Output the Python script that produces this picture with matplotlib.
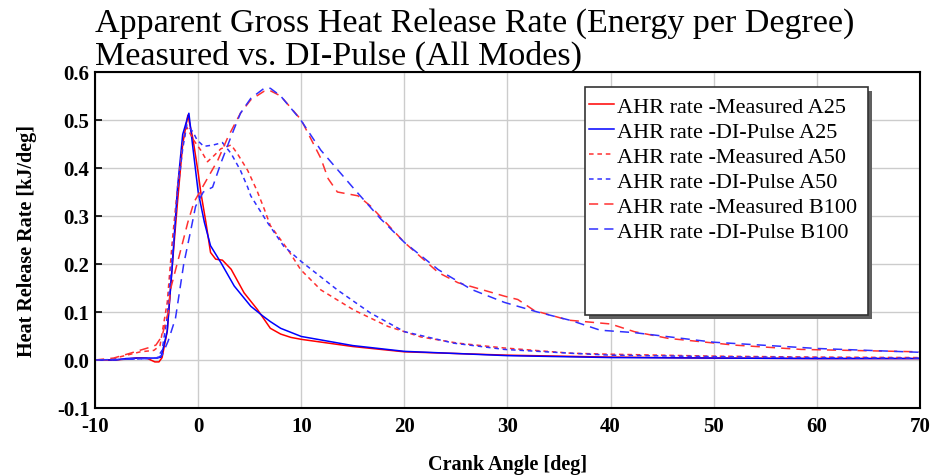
import numpy as np
import matplotlib
matplotlib.use("Agg")
import matplotlib.pyplot as plt
from matplotlib.patches import FancyBboxPatch

plt.rcParams['font.family'] = ['Liberation Serif', 'DejaVu Serif']
plt.rcParams['axes.unicode_minus'] = False

# crank angle [deg] and AHR rate [kJ/deg]
a25_meas_x = [-10, -8, -7, -6, -5, -4.6, -4.2, -3.8, -3.5, -3, -2.5, -2, -1.5, -1, -0.5, 0, 0.25, 0.75,
              1.2, 1.7, 2.35, 3.2, 4.45, 5.75, 7, 8, 9, 10, 15, 20, 30, 40, 50, 60, 70]
a25_meas_y = [0, 0, 0.002, 0.004, 0.004, 0.0, -0.004, -0.004, 0.005, 0.06, 0.2, 0.33, 0.45, 0.51, 0.46,
              0.39, 0.35, 0.287, 0.224, 0.21, 0.208, 0.189, 0.14, 0.105, 0.066, 0.054, 0.047, 0.043,
              0.028, 0.017, 0.01, 0.006, 0.004, 0.003, 0.003]

a25_di_x = [-10, -8, -7, -6, -4, -3.6, -3, -2.5, -2, -1.5, -0.9, -0.5, 0, 0.6, 1.2, 2.2, 3.5, 5.1,
            6.25, 7, 8, 10, 15, 20, 30, 40, 50, 60, 70]
a25_di_y = [0, 0, 0.003, 0.004, 0.004, 0.006, 0.06, 0.2, 0.36, 0.47, 0.514, 0.44, 0.35, 0.287, 0.238,
            0.203, 0.154, 0.112, 0.092, 0.08, 0.066, 0.049, 0.03, 0.018, 0.009, 0.005, 0.004, 0.003, 0.003]

a50_meas_x = [-10, -8.5, -7.5, -5.6, -4.3, -3.7, -3, -2.5, -2, -1.5, -1.1, -0.5, 0.25, 0.9, 1.5, 2.2,
              3.2, 3.8, 4.8, 5.7, 6.4, 7, 8.7, 9.95, 11.9, 15.1, 18.4, 21.6, 25.2, 29.7, 36.2, 40,
              50, 60, 70]
a50_meas_y = [0, 0, 0.007, 0.017, 0.02, 0.03, 0.12, 0.25, 0.36, 0.45, 0.485, 0.46, 0.437, 0.413, 0.425,
              0.44, 0.448, 0.43, 0.395, 0.353, 0.315, 0.28, 0.23, 0.188, 0.146, 0.104, 0.07, 0.048,
              0.035, 0.025, 0.014, 0.012, 0.008, 0.006, 0.005]

a50_di_x = [-10, -6, -4, -3.5, -3, -2.5, -2, -1.5, -1.1, -0.5, -0.1, 0.55, 1.5, 2.35, 3.2, 4.1, 4.8,
            5.1, 6.7, 8.3, 9.95, 13.5, 16.7, 20, 24.8, 29.7, 36.2, 40, 50, 60, 70]
a50_di_y = [0, 0.002, 0.004, 0.02, 0.09, 0.22, 0.35, 0.44, 0.49, 0.475, 0.458, 0.445, 0.448, 0.453,
            0.43, 0.395, 0.36, 0.342, 0.287, 0.237, 0.206, 0.146, 0.098, 0.059, 0.035, 0.022, 0.014,
            0.01, 0.007, 0.005, 0.004]

b100_meas_x = [-10, -8.2, -6.6, -4.9, -4.1, -3.5, -2.9, -2.7, -1.85, -1.0, -0.4, 0.6, 1.9, 2.9, 4.1,
               5.1, 6.4, 6.9, 8.0, 10, 11.9, 12.6, 13.5, 15.5, 16.7, 20, 23.3, 25.2, 29.7, 31, 32.6,
               35.9, 40, 42.3, 45.6, 52, 58.5, 70]
b100_meas_y = [0, 0.004, 0.014, 0.025, 0.031, 0.05, 0.1, 0.146, 0.216, 0.287, 0.329, 0.367, 0.416,
               0.465, 0.514, 0.542, 0.56, 0.562, 0.55, 0.5, 0.42, 0.378, 0.35, 0.342, 0.321, 0.245,
               0.182, 0.161, 0.133, 0.126, 0.103, 0.083, 0.075, 0.059, 0.045, 0.031, 0.022, 0.017]

b100_di_x = [-10, -6, -4, -3.5, -2.9, -2.2, -1.4, -0.7, -0.25, 0.5, 1.4, 2.2, 3.2, 4.1, 5.1, 6.4,
             7.0, 8.0, 9.95, 11.9, 15.1, 17.7, 20, 23.3, 26.5, 29.7, 32.9, 36.2, 39, 42.3, 50, 60, 70]
b100_di_y = [0, 0.002, 0.004, 0.01, 0.04, 0.087, 0.2, 0.272, 0.32, 0.35, 0.36, 0.41, 0.466, 0.514,
             0.545, 0.566, 0.566, 0.55, 0.5, 0.437, 0.357, 0.294, 0.245, 0.188, 0.147, 0.12, 0.1,
             0.082, 0.062, 0.057, 0.037, 0.024, 0.016]

labels = ["AHR rate -Measured A25", "AHR rate -DI-Pulse A25",
          "AHR rate -Measured A50", "AHR rate -DI-Pulse A50",
          "AHR rate -Measured B100", "AHR rate -DI-Pulse B100"]

title1 = "Apparent Gross Heat Release Rate (Energy per Degree)"
title2 = "Measured vs. DI-Pulse (All Modes)"

fig = plt.figure(figsize=(9.32, 4.77), dpi=100)
ax = fig.add_axes([0.102, 0.1426, 0.885, 0.7044])

short = (0, (3, 2.5))
long_ = (0, (6, 4))
ax.plot(a25_meas_x, a25_meas_y, color="#ff0000", lw=1.1, label=labels[0])
ax.plot(a25_di_x, a25_di_y, color="#0000ff", lw=1.1, label=labels[1])
ax.plot(a50_meas_x, a50_meas_y, color="#ff3030", lw=1.1, ls=short, label=labels[2])
ax.plot(a50_di_x, a50_di_y, color="#3030ff", lw=1.1, ls=short, label=labels[3])
ax.plot(b100_meas_x, b100_meas_y, color="#ff3030", lw=1.1, ls=long_, label=labels[4])
ax.plot(b100_di_x, b100_di_y, color="#3030ff", lw=1.1, ls=long_, label=labels[5])

ax.set_xlim(-10, 70)
ax.set_ylim(-0.1, 0.6)
ax.set_xticks(np.arange(-10, 71, 10))
ax.set_yticks(np.arange(-0.1, 0.61, 0.1))
ax.set_yticklabels(["-0.1", "0.0", "0.1", "0.2", "0.3", "0.4", "0.5", "0.6"])
ax.grid(True, color="#cccccc", lw=1.0)
ax.set_axisbelow(True)
ax.tick_params(axis="y", direction="in", length=5, width=1.2, pad=4)
ax.tick_params(axis="x", length=0, pad=6)
for lab in ax.get_xticklabels() + ax.get_yticklabels():
    lab.set_fontsize(15)
    lab.set_fontweight("bold")
for s in ax.spines.values():
    s.set_linewidth(1.5)
    s.set_color("black")

ax.set_xlabel("Crank Angle [deg]", fontsize=14.5, fontweight="bold", labelpad=13)
ax.set_ylabel("Heat Release Rate [kJ/deg]", fontsize=14.5, fontweight="bold", labelpad=14)

# two title lines placed by baseline
fig.text(0.102, 1 - 31.7 / 477, title1, ha="left", va="baseline", fontsize=24.5)
fig.text(0.102, 1 - 65 / 477, title2, ha="left", va="baseline", fontsize=24.5)

# legend box with shadow
x0, y0 = 585 / 932, 1 - 316 / 477
w, h = (868 - 585) / 932, (316 - 88) / 477
shadow = FancyBboxPatch((x0 + 4 / 932, y0 - 4 / 477), w, h, boxstyle="square,pad=0",
                        transform=fig.transFigure, facecolor="#606060", edgecolor="none", zorder=5)
box = FancyBboxPatch((x0, y0), w, h, boxstyle="square,pad=0", transform=fig.transFigure,
                     facecolor="white", edgecolor="#333333", lw=1.2, zorder=6)
fig.add_artist(shadow)
fig.add_artist(box)
leg = fig.legend(loc="upper left", bbox_to_anchor=(x0, 1 - 93 / 477), frameon=False,
                 fontsize=16, handlelength=1.1, handletextpad=0.15, labelspacing=0.2,
                 borderpad=0.2, borderaxespad=0)
leg.set_zorder(7)

fig.savefig("out.png", dpi=100)
